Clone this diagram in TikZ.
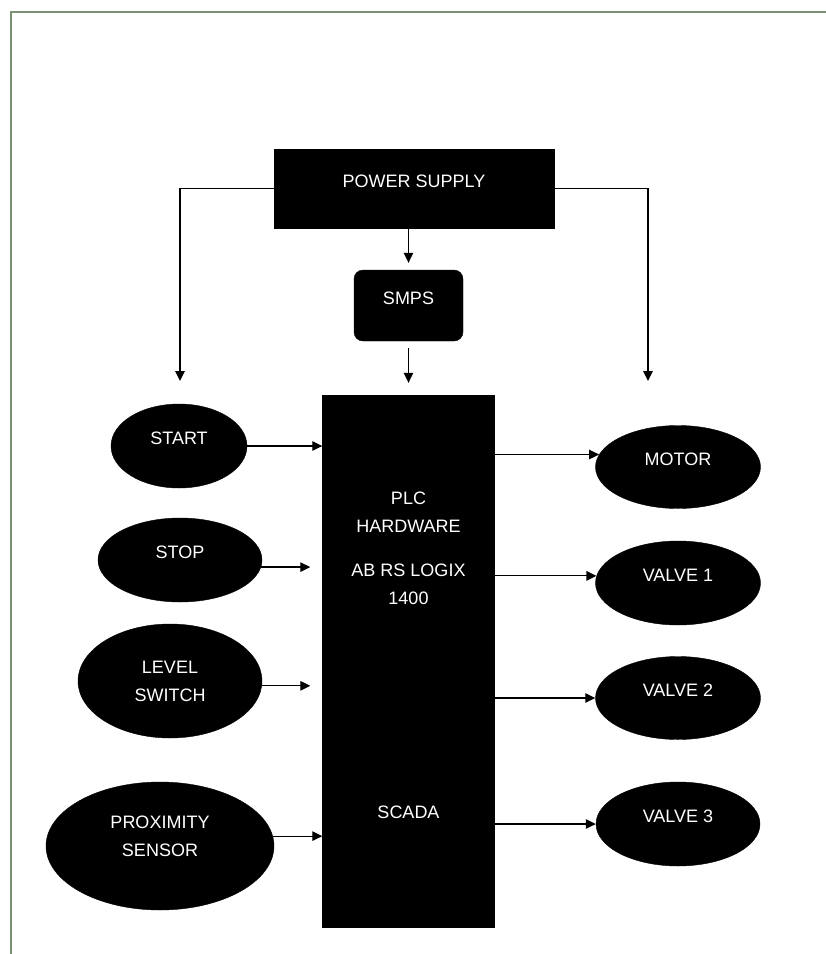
\documentclass[tikz,border=0pt]{standalone}
\usepackage{fontspec}
\setmainfont{Liberation Sans}
\usepackage{tikz}
\usetikzlibrary{arrows.meta, shapes.geometric}

\definecolor{framegreen}{RGB}{125,145,115}

\begin{document}
\begin{tikzpicture}[
  x=1pt, y=-1pt,
  blk/.style={rectangle, draw, fill=black, text=white, inner sep=0pt,
              font=\fontsize{18}{28}\selectfont, text depth=15pt},
  smpsbox/.style={blk, rounded corners=9pt},
  cell/.style={ellipse, draw, fill=black, text=white, inner sep=0pt,
               font=\fontsize{18}{28}\selectfont, align=center},
  txt/.style={text=white, inner sep=0pt, align=center,
              font=\fontsize{18}{28}\selectfont},
  lk/.style={draw, line width=1.2pt, -{Triangle[length=10pt,width=9.5pt]}}
]
  \useasboundingbox (0,0) rectangle (826,954);
  \draw[framegreen, line width=1.4pt] (11,954) -- (11,12) -- (826,12);

  % power and plc blocks
  \node[blk, minimum width=280, minimum height=79] (PS) at (414,188.5) {POWER SUPPLY};
  \node[smpsbox, minimum width=109, minimum height=71] (SMPS) at (408.5,305.5) {SMPS};
  \node[blk, minimum width=172, minimum height=532, text depth=0pt] (PLC) at (408.5,661) {};
  \node[txt] (plchw) at (408.5,512) {PLC\\HARDWARE};
  \node[txt] (logix) at (408.5,584) {AB RS LOGIX\\1400};
  \node[txt] (scada) at (408.5,812) {SCADA};

  % inputs
  \node[cell, minimum width=136, minimum height=84, text depth=15pt] (START) at (179,446) {START};
  \node[cell, minimum width=164, minimum height=84, text depth=15pt] (STOP) at (180,560) {STOP};
  \node[cell, minimum width=184, minimum height=114] (LEVEL) at (170,681) {LEVEL\\SWITCH};
  \node[cell, minimum width=228, minimum height=128] (PROX) at (160,846) {PROXIMITY\\SENSOR\\[-8pt]};

  % outputs
  \node[cell, minimum width=165, minimum height=83, text depth=15pt] (MOTOR) at (678,467) {MOTOR};
  \node[cell, minimum width=165, minimum height=84, text depth=15pt] (V1) at (678,583) {VALVE 1};
  \node[cell, minimum width=165, minimum height=83, text depth=15pt] (V2) at (678,698) {VALVE 2};
  \node[cell, minimum width=164, minimum height=84, text depth=15pt] (V3) at (678,824) {VALVE 3};

  \coordinate (pl) at (180,381);
  \coordinate (pr) at (648,381);
  \draw[lk] (PS.west) -| (pl);
  \draw[lk] (PS.east) -| (pr);
  \draw[lk, shorten >=7pt] (SMPS.north |- PS.south) -- (SMPS.north);
  \draw[lk, shorten <=7pt, shorten >=12pt] (SMPS.south) -- (SMPS.south |- PLC.north);

  \draw[lk] (START.east) -- (START.east -| PLC.west);
  \foreach \n/\a in {STOP/-5,LEVEL/-3}
    \draw[lk, shorten >=12pt] (\n.\a) -- (\n.\a -| PLC.west);
  \draw[lk] (PROX.5) -- (PROX.5 -| PLC.west);

  \foreach \n/\a in {MOTOR/171,V1/175,V2/180,V3/180}
    \draw[lk] (PLC.east |- \n.\a) -- (\n.\a);
\end{tikzpicture}
\end{document}
